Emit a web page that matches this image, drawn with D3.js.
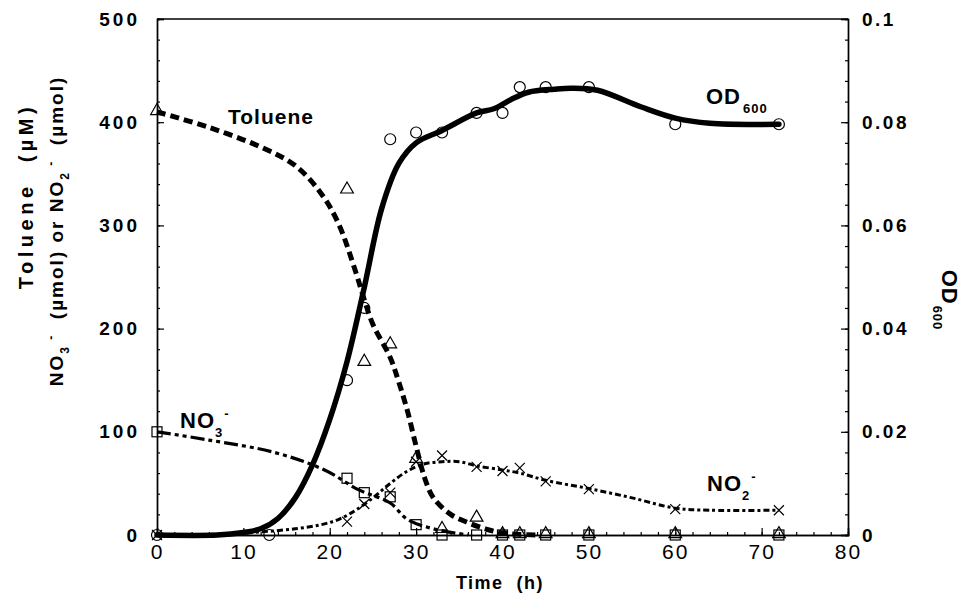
<!DOCTYPE html>
<html>
<head>
<meta charset="utf-8">
<script src="https://cdn.jsdelivr.net/npm/d3@7"></script>
<style>
  html, body { margin: 0; padding: 0; background: #fff; }
  svg { display: block; }
  text { font-family: "Liberation Sans", Arial, Helvetica, sans-serif; fill: #000; }
</style>
</head>
<body>
<svg id="chart" width="967" height="607"></svg>
<script>
// ---------- DATA ----------
// Measured sampling times (h)
const timeOD   = [0, 13, 22, 24, 27, 30, 33, 37, 40, 42, 45, 50, 60, 72];
const valueOD  = [0, 0, 0.030, 0.044, 0.0767, 0.078, 0.078, 0.0818, 0.0818, 0.0868, 0.0868, 0.0868, 0.0796, 0.0796];

const timeTol  = [0, 22, 24, 27, 30, 33, 37, 40, 42, 45, 50, 60, 72];
const valueTol = [410, 334, 167, 184, 73, 5, 16, 0, 0, 0, 0, 0, 0];

const timeNO3  = [0, 22, 24, 27, 30, 33, 37, 40, 42, 45, 50, 60, 72];
const valueNO3 = [100, 55, 41, 37, 10, 0, 0, 0, 0, 0, 0, 0, 0];

const timeNO2  = [0, 22, 24, 27, 30, 33, 37, 40, 42, 45, 50, 60, 72];
const valueNO2 = [0, 13, 30, 41, 71, 77, 66, 62, 65, 52, 44.5, 25, 24];

// Fitted (hand-drawn) curves
const fitODt   = [0, 7, 10, 12, 14, 16, 18, 20, 22, 24, 26, 28, 30, 33, 37, 39, 41, 43, 46, 48, 51, 56, 60, 64, 72];
const fitODv   = [0, 0, 0.0005, 0.0012, 0.0032, 0.0072, 0.0136, 0.0224, 0.0336, 0.048, 0.0632, 0.072, 0.076, 0.0784, 0.0818, 0.0826, 0.0844, 0.0858, 0.0864, 0.0866, 0.0862, 0.083, 0.0808, 0.0798, 0.0796];

const fitTolT  = [0, 6, 12, 16, 19, 21, 23, 24, 25, 27, 28, 29, 30, 31, 32, 34, 36, 38, 40, 44];
const fitTolV  = [410, 395, 376, 358, 331, 302, 255, 228, 204, 172, 148, 120, 86, 55, 36, 20, 12, 6, 2, 0];

const fitNO3t  = [0, 6, 13.6, 19.4, 23.3, 27, 29, 32, 36];
const fitNO3v  = [100, 92, 80, 63, 44, 31, 15, 6, 0];

const fitNO2t  = [0, 8, 12, 16, 19, 21, 23, 25, 27, 29, 31, 33, 35, 37, 40, 42, 45, 50, 55, 60, 64, 72];
const fitNO2v  = [0, 1, 3, 6, 10, 15, 24, 36, 50, 62, 69, 71, 71, 67, 63, 60, 53, 45, 36, 26, 24, 24];

// Tick labels
const xTicks      = [0, 10, 20, 30, 40, 50, 60, 70, 80];
const yLeftTicks  = [0, 100, 200, 300, 400, 500];
const yRightTicks = [0, 0.02, 0.04, 0.06, 0.08, 0.1];
const yRightLabels = ["0", "0.02", "0.04", "0.06", "0.08", "0.1"];

// ---------- LAYOUT ----------
const svg = d3.select("#chart");
const L = 157, R = 848, T = 19, B = 535;

const x  = d3.scaleLinear().domain([0, 80]).range([L, R]);
const yL = d3.scaleLinear().domain([0, 500]).range([B, T]);
const yR = d3.scaleLinear().domain([0, 0.1]).range([B, T]);

// ---------- AXES ----------
function styleAxis(g) {
  g.select(".domain").attr("stroke", "#000").attr("stroke-width", 1.4);
  g.selectAll(".tick line").attr("stroke", "#000").attr("stroke-width", 1.2);
}

// minor ticks
svg.append("g").attr("transform", `translate(${L},0)`)
  .call(d3.axisLeft(yL).tickValues(d3.range(0, 501, 20)).tickSize(-3).tickFormat(""))
  .call(styleAxis);
svg.append("g").attr("transform", `translate(${R},0)`)
  .call(d3.axisRight(yR).tickValues(d3.range(0, 26).map(i => i * 0.004)).tickSize(-3).tickFormat(""))
  .call(styleAxis);
svg.append("g").attr("transform", `translate(0,${B})`)
  .call(d3.axisBottom(x).tickValues(d3.range(0, 81, 2)).tickSize(-3).tickFormat(""))
  .call(styleAxis);

// major ticks
const gL = svg.append("g").attr("transform", `translate(${L},0)`)
  .call(d3.axisLeft(yL).tickValues(yLeftTicks).tickSize(-7).tickPadding(17).tickFormat(d3.format("d")))
  .call(styleAxis);
gL.selectAll(".tick text").attr("font-size", 19).attr("font-weight", "bold")
  .attr("letter-spacing", "3px").attr("font-family", "Liberation Sans, Arial, sans-serif");

const gR = svg.append("g").attr("transform", `translate(${R},0)`)
  .call(d3.axisRight(yR).tickValues(yRightTicks).tickSize(-7).tickPadding(14)
    .tickFormat((d, i) => yRightLabels[i]))
  .call(styleAxis);
gR.selectAll(".tick text").attr("font-size", 19).attr("font-weight", "bold")
  .attr("letter-spacing", "2.5px").attr("font-family", "Liberation Sans, Arial, sans-serif");

const gB = svg.append("g").attr("transform", `translate(0,${B})`)
  .call(d3.axisBottom(x).tickValues(xTicks).tickSize(-7).tickPadding(9).tickFormat(d3.format("d")))
  .call(styleAxis);
gB.selectAll(".tick text").attr("font-size", 21).attr("font-weight", "normal")
  .attr("letter-spacing", "2px").attr("font-family", "Liberation Sans, Arial, sans-serif");

// top frame line
svg.append("line").attr("x1", L).attr("x2", R).attr("y1", T).attr("y2", T)
  .attr("stroke", "#000").attr("stroke-width", 1.4);

// ---------- CURVES ----------
const curve = d3.curveCatmullRom.alpha(0.5);
const lineL = d3.line().x(d => x(d[0])).y(d => yL(d[1])).curve(curve);
const lineR = d3.line().x(d => x(d[0])).y(d => yR(d[1])).curve(curve);

svg.append("path").datum(d3.zip(fitNO3t, fitNO3v)).attr("d", lineL)
  .attr("fill", "none").attr("stroke", "#000").attr("stroke-width", 3.2)
  .attr("stroke-dasharray", "14,4,4,4,4,4");

svg.append("path").datum(d3.zip(fitNO2t, fitNO2v)).attr("d", lineL)
  .attr("fill", "none").attr("stroke", "#000").attr("stroke-width", 3)
  .attr("stroke-dasharray", "6,3,3,3");

svg.append("path").datum(d3.zip(fitTolT, fitTolV)).attr("d", lineL)
  .attr("fill", "none").attr("stroke", "#000").attr("stroke-width", 5)
  .attr("stroke-dasharray", "9,5");

svg.append("path").datum(d3.zip(fitODt, fitODv)).attr("d", lineR)
  .attr("fill", "none").attr("stroke", "#000").attr("stroke-width", 5.5)
  .attr("stroke-linecap", "round");

// ---------- MARKERS ----------
const mk = svg.append("g").attr("fill", "none").attr("stroke", "#000").attr("stroke-width", 1.2);

mk.selectAll(".sq").data(d3.zip(timeNO3, valueNO3)).join("rect")
  .attr("x", d => x(d[0]) - 5).attr("y", d => yL(d[1]) - 5)
  .attr("width", 10).attr("height", 10).attr("fill", "#fff").attr("fill-opacity", 0);

const tri = d3.symbol().type(d3.symbolTriangle).size(70);
mk.selectAll(".tri").data(d3.zip(timeTol, valueTol)).join("path")
  .attr("d", tri).attr("transform", d => `translate(${x(d[0])},${yL(d[1]) - 1})`);

mk.selectAll(".xm").data(d3.zip(timeNO2, valueNO2)).join("path")
  .attr("d", "M-5,-5L5,5M-5,5L5,-5")
  .attr("transform", d => `translate(${x(d[0])},${yL(d[1])})`);

mk.selectAll(".ci").data(d3.zip(timeOD, valueOD)).join("circle")
  .attr("cx", d => x(d[0])).attr("cy", d => yR(d[1])).attr("r", 5.5);

// ---------- ANNOTATIONS ----------
const ann = svg.append("g").attr("font-weight", "bold");

ann.append("text").attr("x", 228).attr("y", 124).attr("font-size", 21)
  .attr("letter-spacing", "1px").text("Toluene");

const od = ann.append("text").attr("x", 706).attr("y", 104).attr("font-size", 22).attr("letter-spacing", "1px");
od.append("tspan").text("OD");
od.append("tspan").attr("font-size", 13).attr("dy", 9).attr("dx", 2).text("600");

const no3 = ann.append("text").attr("x", 180).attr("y", 428).attr("font-size", 22).attr("letter-spacing", "1px");
no3.append("tspan").text("NO");
no3.append("tspan").attr("font-size", 13).attr("dy", 9).text("3");
no3.append("tspan").attr("font-size", 13).attr("dy", -19).attr("dx", 1).text("-");

const no2 = ann.append("text").attr("x", 707).attr("y", 491).attr("font-size", 22).attr("letter-spacing", "1px");
no2.append("tspan").text("NO");
no2.append("tspan").attr("font-size", 13).attr("dy", 9).text("2");
no2.append("tspan").attr("font-size", 13).attr("dy", -19).attr("dx", 1).text("-");

// ---------- AXIS TITLES ----------
svg.append("text").attr("x", 500).attr("y", 589).attr("text-anchor", "middle")
  .attr("font-size", 18).attr("font-weight", "bold").attr("letter-spacing", "1.5px")
  .attr("xml:space", "preserve").text("Time  (h)");

const t1 = svg.append("text").attr("transform", "translate(33,196) rotate(-90)")
  .attr("text-anchor", "middle").attr("font-size", 20).attr("font-weight", "bold")
  .attr("letter-spacing", "4.5px").attr("xml:space", "preserve");
t1.text("Toluene  (µM)");

const t2 = svg.append("text").attr("transform", "translate(63,231) rotate(-90)")
  .attr("text-anchor", "middle").attr("font-size", 19).attr("font-weight", "bold")
  .attr("letter-spacing", "2px").attr("xml:space", "preserve");
t2.append("tspan").text("NO");
t2.append("tspan").attr("font-size", 12).attr("dy", 6).text("3");
t2.append("tspan").attr("font-size", 12).attr("dy", -14).text(" -");
t2.append("tspan").attr("dy", 8).text("  (µmol) or NO");
t2.append("tspan").attr("font-size", 12).attr("dy", 6).text("2");
t2.append("tspan").attr("font-size", 12).attr("dy", -14).text(" -");
t2.append("tspan").attr("dy", 8).text("  (µmol)");

const t3 = svg.append("text").attr("transform", "translate(942,300) rotate(90)")
  .attr("text-anchor", "middle").attr("font-size", 22).attr("font-weight", "bold")
  .attr("letter-spacing", "1px");
t3.append("tspan").text("OD");
t3.append("tspan").attr("font-size", 13).attr("dy", 9).attr("dx", 1).text("600");
</script>
</body>
</html>
